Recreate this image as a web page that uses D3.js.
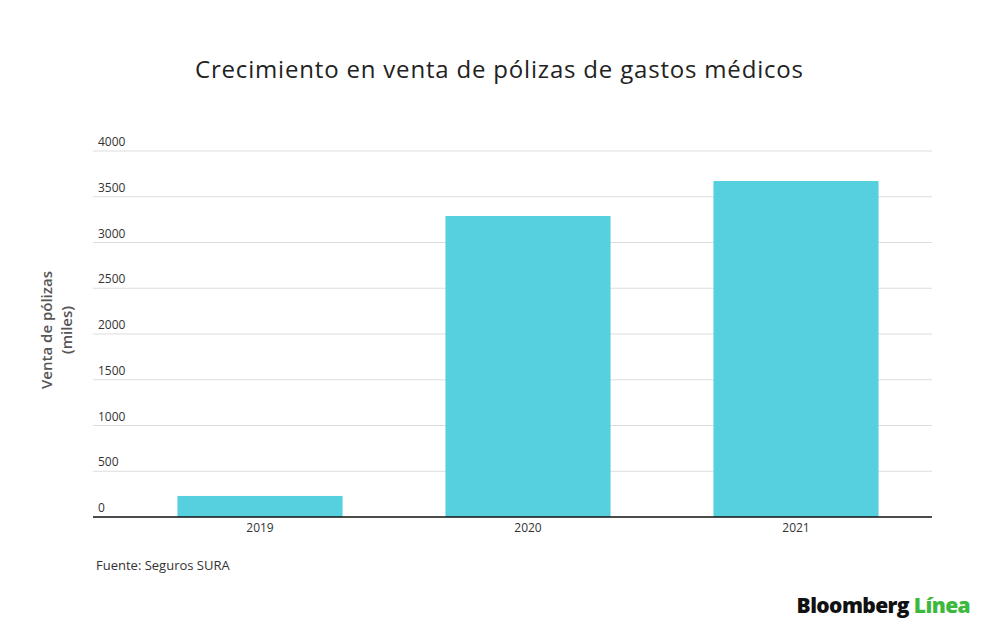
<!DOCTYPE html>
<html><head><meta charset="utf-8">
<script src="https://cdn.jsdelivr.net/npm/d3@7"></script>
<style>body{margin:0;background:#fff}text{font-family:"Open Sans",Lato,sans-serif}</style>
</head><body><svg id="c" width="1000" height="633"></svg>
<script>
const categories = ["2019","2020","2021"];
const values = [230, 3290, 3672];
const yTicks = [0,500,1000,1500,2000,2500,3000,3500,4000];

const svg = d3.select("#c");
const x = d3.scaleBand().domain(categories).range([126,930]).paddingInner(0.384).paddingOuter(0.192);
const y = d3.scaleLinear().domain([0,4000]).range([517,151]);

svg.append("text").attr("x",499).attr("y",78).attr("text-anchor","middle")
  .attr("font-size",24).attr("fill","#222").attr("textLength",608).text("Crecimiento en venta de pólizas de gastos médicos");

const g = svg.append("g");
yTicks.forEach(t=>{
  if(t>0) g.append("line").attr("x1",93).attr("x2",932).attr("y1",y(t)).attr("y2",y(t)).attr("stroke","#ddd");
  g.append("text").attr("x",98).attr("y",y(t)-5).attr("font-size",12).attr("fill","#333").text(t);
});
g.selectAll("rect").data(values).join("rect")
  .attr("x",(d,i)=>x(categories[i])).attr("width",x.bandwidth())
  .attr("y",d=>y(d)).attr("height",d=>y(0)-y(d)).attr("fill","#56d0de");
g.append("line").attr("x1",93).attr("x2",932).attr("y1",517).attr("y2",517).attr("stroke","#111").attr("stroke-width",1.5);
categories.forEach(c=>{
  g.append("text").attr("x",x(c)+x.bandwidth()/2).attr("y",532).attr("text-anchor","middle")
   .attr("font-size",12).attr("fill","#333").text(c);
});
const yl = svg.append("text").attr("transform","translate(56,330) rotate(-90)").attr("text-anchor","middle")
  .attr("font-size",15).attr("font-weight",600).attr("fill","#555");
yl.append("tspan").attr("x",0).attr("dy",-4).text("Venta de pólizas");
yl.append("tspan").attr("x",0).attr("dy",20).text("(miles)");

svg.append("text").attr("x",96).attr("y",570).attr("font-size",13).attr("fill","#333").text("Fuente: Seguros SURA");
const lg = svg.append("text").attr("x",970).attr("y",613).attr("text-anchor","end").attr("font-size",21)
  .attr("font-weight",800).attr("font-family","Inter, Roboto, sans-serif").attr("letter-spacing","-0.6");
lg.append("tspan").attr("fill","#111").text("Bloomberg ");
lg.append("tspan").attr("fill","#3cb83c").text("Línea");
</script></body></html>
